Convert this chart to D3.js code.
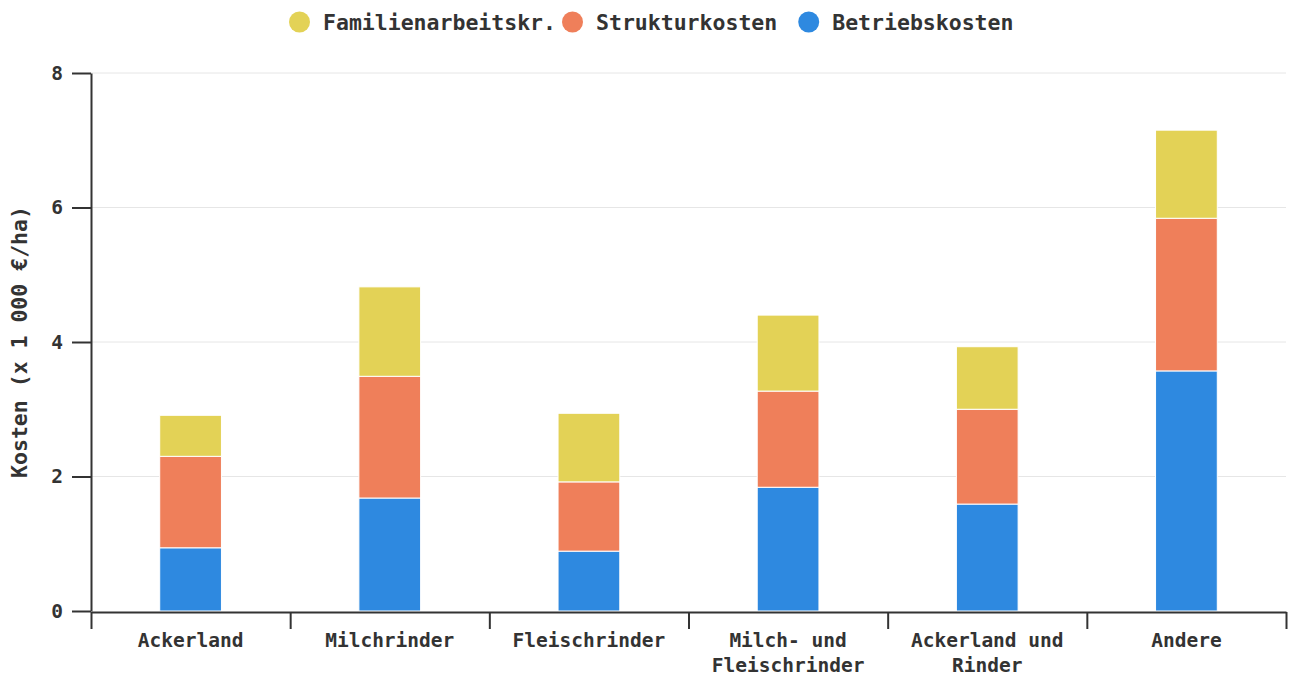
<!DOCTYPE html>
<html>
<head>
<meta charset="utf-8">
<script src="https://cdn.jsdelivr.net/npm/d3@7"></script>
<style>
  body { margin: 0; background: #fff; }
  text { font-family: "DejaVu Sans Mono", monospace; font-weight: bold; fill: #333; }
</style>
</head>
<body>
<div id="chart"></div>
<script>
// data (x 1 000 €/ha)
var categories = ['Ackerland', 'Milchrinder', 'Fleischrinder', 'Milch- und Fleischrinder', 'Ackerland und Rinder', 'Andere'];
var labelLines = [['Ackerland'], ['Milchrinder'], ['Fleischrinder'], ['Milch- und', 'Fleischrinder'], ['Ackerland und', 'Rinder'], ['Andere']];
var betriebskosten = [0.94, 1.68, 0.89, 1.84, 1.59, 3.57];
var strukturkosten = [1.36, 1.81, 1.03, 1.43, 1.41, 2.27];
var familienarbeit = [0.61, 1.33, 1.02, 1.13, 0.93, 1.31];
var seriesNames = ['Betriebskosten', 'Strukturkosten', 'Familienarbeitskr.'];
var seriesColors = ['#2e89e0', '#ef7f5a', '#e3d256'];
var yTicks = [0, 2, 4, 6, 8];

var width = 1294, height = 675;
var mLeft = 91, mRight = 1286, mTop = 73, mBottom = 611;

var svg = d3.select('#chart').append('svg')
  .attr('width', width)
  .attr('height', height);

var rows = categories.map(function(c, i) {
  return { cat: c, Betriebskosten: betriebskosten[i], Strukturkosten: strukturkosten[i], 'Familienarbeitskr.': familienarbeit[i] };
});
var stacked = d3.stack().keys(seriesNames)(rows);

var x = d3.scaleBand().domain(categories).range([mLeft, mRight]).paddingInner(0.69).paddingOuter(0.345);
var xEdge = d3.scaleLinear().domain([0, categories.length]).range([mLeft, mRight]);
var y = d3.scaleLinear().domain([0, 8]).range([mBottom, mTop]);
var color = d3.scaleOrdinal().domain(seriesNames).range(seriesColors);

// grid
svg.append('g').selectAll('line')
  .data(yTicks.slice(1))
  .enter().append('line')
  .attr('x1', mLeft).attr('x2', mRight)
  .attr('y1', function(d) { return y(d); })
  .attr('y2', function(d) { return y(d); })
  .attr('stroke', '#e6e6e6')
  .attr('stroke-width', 1);

// bars
svg.append('g').selectAll('g')
  .data(stacked)
  .enter().append('g')
  .attr('fill', function(d) { return color(d.key); })
  .selectAll('rect')
  .data(function(d) { return d; })
  .enter().append('rect')
  .attr('x', function(d) { return x(d.data.cat); })
  .attr('width', x.bandwidth())
  .attr('y', function(d) { return y(d[1]); })
  .attr('height', function(d) { return y(d[0]) - y(d[1]); })
  .attr('stroke', '#fff')
  .attr('stroke-width', 1);

// y axis
var yAxis = svg.append('g')
  .attr('transform', 'translate(' + mLeft + ',0)')
  .call(d3.axisLeft(y).tickValues(yTicks).tickSize(19).tickSizeOuter(0).tickPadding(9));
yAxis.selectAll('path, line').attr('stroke', '#333').attr('stroke-width', 2);
yAxis.selectAll('text').attr('font-size', 19.5).attr('font-family', null);

// x axis
var xAxis = svg.append('g')
  .attr('transform', 'translate(0,' + (mBottom + 1) + ')')
  .call(d3.axisBottom(xEdge).tickValues(d3.range(categories.length + 1)).tickFormat('').tickSize(17).tickSizeOuter(0));
xAxis.selectAll('path, line').attr('stroke', '#333').attr('stroke-width', 2);

var xl = svg.append('g').selectAll('text')
  .data(categories)
  .enter().append('text')
  .attr('x', function(d) { return x(d) + x.bandwidth() / 2; })
  .attr('y', 647)
  .attr('text-anchor', 'middle')
  .attr('font-size', 19.5);
xl.selectAll('tspan')
  .data(function(d, i) { return labelLines[i]; })
  .enter().append('tspan')
  .attr('x', function() { var p = this.parentNode.__data__; return x(p) + x.bandwidth() / 2; })
  .attr('dy', function(d, i) { return i === 0 ? 0 : 25; })
  .text(function(d) { return d; });

// y title
svg.append('text')
  .attr('transform', 'translate(27,' + ((mTop + mBottom) / 2) + ') rotate(-90)')
  .attr('text-anchor', 'middle')
  .attr('font-size', 21.5)
  .text('Kosten (x 1 000 €/ha)');

// legend
var legendOrder = ['Familienarbeitskr.', 'Strukturkosten', 'Betriebskosten'];
var legendGap = [6, 21, 0];
var lx = 289;
legendOrder.forEach(function(name, i) {
  var g = svg.append('g').attr('transform', 'translate(' + lx + ',22)');
  g.append('circle').attr('cx', 10.5).attr('cy', 0).attr('r', 10.5).attr('fill', color(name));
  var t = g.append('text').attr('x', 34).attr('y', 7.5).attr('font-size', 21.5).text(name);
  lx += 34 + t.node().getComputedTextLength() + legendGap[i];
});
</script>
</body>
</html>
